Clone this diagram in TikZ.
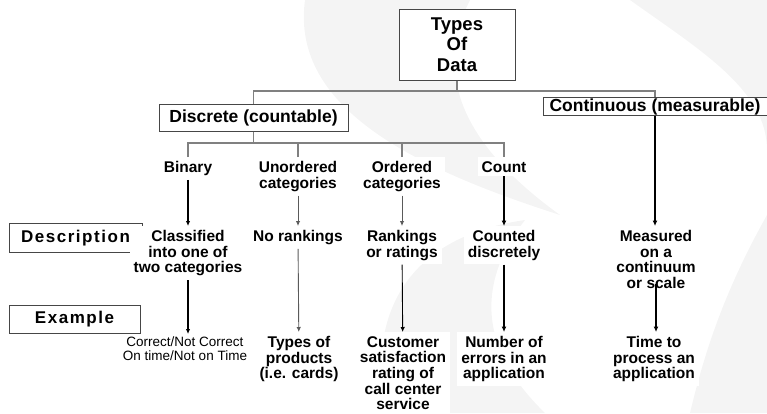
\documentclass[tikz,border=0pt]{standalone}
\usepackage{fontspec}
\setmainfont{Liberation Sans}
\usepackage{xcolor}
\usetikzlibrary{arrows.meta,calc}
\definecolor{tdline}{RGB}{70,70,70}
\definecolor{tdtree}{RGB}{128,128,128}
\definecolor{tdgrey}{RGB}{90,90,90}
\definecolor{tdwater}{RGB}{244,244,244}
\tikzset{
  topbox/.style={draw=tdline, line width=1pt, fill=white, align=center, inner sep=0pt, font=\fontsize{18.5}{20.5}\selectfont\bfseries},
  catbox/.style={draw=tdline, line width=1pt, fill=white, align=center, inner sep=0pt, font=\fontsize{17.5}{18}\selectfont\bfseries},
  rowbox/.style={draw=tdline, line width=1pt, fill=white, align=center, inner sep=0pt, font=\fontsize{17}{18}\selectfont\bfseries\addfontfeature{LetterSpace=9}},
  lbl/.style={fill=white, align=center, anchor=north, inner sep=4pt, font=\fontsize{15.5}{15.7}\selectfont\bfseries},
  small/.style={fill=white, align=center, anchor=north, inner sep=3pt, font=\fontsize{13.5}{13.6}\selectfont},
  tree/.style={tdtree, line width=1.2pt},
  arrow/.style={-{Latex[length=5pt,width=4.5pt]}, line width=1.3pt, black},
  thinarrow/.style={-{Latex[length=5pt,width=4.5pt]}, line width=0.9pt, tdgrey},
  thickarrow/.style={-{Latex[length=5.5pt,width=5pt]}, line width=1.9pt, black}
}

\begin{document}
\begin{tikzpicture}[x=1pt, y=-1pt]
  \useasboundingbox (0,0) rectangle (767,413);
  % faint background swooshes
  \fill[tdwater] (305,0) .. controls (290,110) and (420,170) .. (560,215) .. controls (470,150) and (430,80) .. (470,0) -- cycle;
  \fill[tdwater] (385,413) .. controls (365,300) and (420,235) .. (525,220) .. controls (475,285) and (480,350) .. (545,413) -- cycle;
  \fill[tdwater] (630,0) .. controls (700,50) and (767,90) .. (767,150) -- (767,0) -- cycle;
  \fill[tdwater] (767,215) .. controls (725,290) and (705,350) .. (690,413) -- (767,413) -- cycle;

  \node[topbox, minimum width=116, minimum height=71] (types) at (457,44.5) {Types\\Of\\Data};
  \node[catbox, minimum width=189, minimum height=27] (disc) at (253.5,117.5) {Discrete (countable)};
  \node[catbox, minimum width=224, minimum height=17.5] (cont) at (655,106.5) {Continuous (measurable)};
  \node[rowbox, minimum width=133, minimum height=28.5] (desc) at (75.5,238) {Description};
  \node[rowbox, minimum width=131, minimum height=28] (exmp) at (74.5,319) {Example};

  \node[lbl] (bin) at (188,157) {Binary};
  \node[lbl] (unord) at (298,157) {Unordered\\categories};
  \node[lbl] (ord) at (402,157) {Ordered\\categories};
  \node[lbl] (cnt) at (504,157) {Count};

  \node[lbl] (cls) at (188,226) {Classified\\into one of\\two categories};
  \node[lbl] (norank) at (298,226) {No rankings};
  \node[lbl] (rank) at (402,226) {Rankings\\or ratings};
  \node[lbl] (cntd) at (504,226) {Counted\\discretely};
  \node[lbl] (meas) at (656,226) {Measured\\on a\\continuum\\or scale};

  \node[small] (ex1) at (185,334) {Correct/Not Correct\\On time/Not on Time};
  \node[lbl] (ex2) at (299,332) {Types of\\products\\(i.e. cards)};
  \node[lbl] (ex3) at (403,332) {Customer\\satisfaction\\rating of\\call center\\service};
  \node[lbl] (ex4) at (504,332) {Number of\\errors in an\\application};
  \node[lbl] (ex5) at (654,332) {Time to\\process an\\application};

  \coordinate (j1) at (457,91);
  \coordinate (j2) at (253.5,143);
  \draw[tree] (types) -- (j1);
  \draw[tree] (disc.north) |- (j1) -| (cont.north);
  \draw[tree] (disc) -- (j2);
  \draw[tree] (bin.north) |- (j2) -| (cnt.north);
  \draw[tree] (unord.north) -- (unord.north |- j2);
  \draw[tree] (ord.north) -- (ord.north |- j2);

  \draw[arrow] (bin) -- (cls);
  \draw[thinarrow] (unord) -- (norank);
  \draw[thinarrow] (ord) -- (rank);
  \draw[thickarrow] (cnt) -- (cntd);
  \draw[thickarrow] (cont.south) -- (cont.south |- meas.north);
  \draw[arrow] (cls) -- (cls.south |- ex1.north);
  \draw[thinarrow] (norank) -- (ex2);
  \draw[thinarrow, black] (rank) -- (ex3);
  \draw[thickarrow] (cntd) -- (ex4);
  \draw[thickarrow, line width=1.6pt] ([yshift=9pt]meas.south) -- (meas.south |- ex5.north);
\end{tikzpicture}
\end{document}
